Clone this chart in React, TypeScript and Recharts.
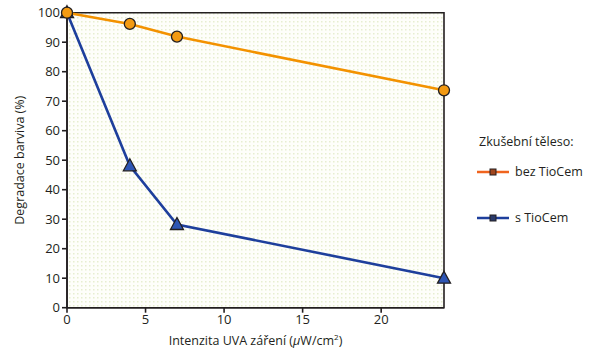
import React from "react";
import {
  LineChart,
  Line,
  XAxis,
  YAxis,
  CartesianGrid,
  ReferenceArea,
  Legend,
} from "recharts";

const intensity = [0, 4, 7, 24];
const bezTioCem = [100, 96.2, 91.9, 73.7];
const sTioCem = [100, 48.1, 28.2, 10];
const xTicks = [0, 5, 10, 15, 20];
const yTicks = [0, 10, 20, 30, 40, 50, 60, 70, 80, 90, 100];

const data = intensity.map((x, i) => ({ x, bez: bezTioCem[i], s: sTioCem[i] }));

const FONT = "'Open Sans', 'Noto Sans', sans-serif";
const ORANGE = "#f39200";
const BLUE = "#1e3f9c";
const DARK = "#231f20";

const Triangle = (props: any) => {
  const { cx, cy } = props;
  if (cx == null || cy == null) return null;
  const w = 6.5;
  return (
    <path
      d={`M${cx},${cy - 7} L${cx + w},${cy + 5} L${cx - w},${cy + 5} Z`}
      fill="#2e56b4"
      stroke={DARK}
      strokeWidth={1.3}
    />
  );
};

const XLabel = (props: any) => {
  const vb = props.viewBox || {};
  const cx = (vb.x ?? 0) + (vb.width ?? 0) / 2;
  const y = 345;
  return (
    <text x={cx} y={y} textAnchor="middle" fill={DARK} fontSize={12.5} fontFamily={FONT}>
      <tspan>Intenzita UVA záření (</tspan>
      <tspan fontStyle="italic">μ</tspan>
      <tspan>W/cm</tspan>
      <tspan fontSize={8} dy={-5}>2</tspan>
      <tspan dy={5}>)</tspan>
    </text>
  );
};

const LegendContent = () => (
  <div style={{ fontFamily: FONT, fontSize: 12.5, color: DARK, width: 140 }}>
    <div style={{ marginBottom: 13 }}>Zkušební těleso:</div>
    <div style={{ display: "flex", alignItems: "center", marginLeft: -2 }}>
      <svg width={34} height={10}>
        <line x1={0} y1={5} x2={32} y2={5} stroke="#f0641e" strokeWidth={2.5} />
        <rect x={13} y={2} width={6} height={6} fill="#a0461e" stroke={DARK} strokeWidth={1} />
      </svg>
      <span style={{ marginLeft: 4 }}>bez TioCem</span>
    </div>
    <div style={{ display: "flex", alignItems: "center", marginLeft: -2, marginTop: 29 }}>
      <svg width={34} height={10}>
        <line x1={0} y1={5} x2={32} y2={5} stroke={BLUE} strokeWidth={2.5} />
        <rect x={13} y={2} width={6} height={6} fill="#2a3a6a" stroke={DARK} strokeWidth={1} />
      </svg>
      <span style={{ marginLeft: 4 }}>s TioCem</span>
    </div>
  </div>
);

export default function App() {
  return (
    <div style={{ position: "absolute", left: 0, top: 0, width: 600, height: 355, background: "#fff" }}>
      <LineChart
        width={600}
        height={355}
        data={data}
        margin={{ top: 12.7, right: 156, bottom: 0, left: 0 }}
      >
        <defs>
          <pattern id="dots" width="4" height="4" patternUnits="userSpaceOnUse">
            <rect width="4" height="4" fill="#fefefa" />
            <rect x="1" y="1" width="1.5" height="1.5" fill="#e7eed0" />
          </pattern>
        </defs>
        <ReferenceArea x1={0} x2={24} y1={0} y2={100} fill="url(#dots)" fillOpacity={1} stroke="none" />
        <CartesianGrid vertical={false} stroke="#dedede" strokeWidth={1} />
        <ReferenceArea x1={0} x2={24} y1={0} y2={100} fill="none" stroke={DARK} strokeWidth={1.6} />
        <XAxis
          dataKey="x"
          type="number"
          domain={[0, 24]}
          ticks={xTicks}
          height={47.3}
          stroke={DARK}
          strokeWidth={1.6}
          tickSize={5}
          tick={{ fill: DARK, fontSize: 13, fontFamily: FONT }}
          label={<XLabel />}
        />
        <YAxis
          type="number"
          domain={[0, 100]}
          ticks={yTicks}
          width={67}
          stroke={DARK}
          strokeWidth={1.6}
          tickSize={5}
          tick={{ fill: DARK, fontSize: 13, fontFamily: FONT }}
          label={{
            value: "Degradace barviva (%)",
            angle: -90,
            position: "insideLeft",
            offset: 20,
            fill: DARK,
            fontSize: 12.5,
            fontFamily: FONT,
            style: { textAnchor: "middle" },
          }}
        />
        <Legend
          layout="vertical"
          verticalAlign="middle"
          align="center"
          content={<LegendContent />}
          wrapperStyle={{ position: "absolute", left: 479, top: 133, width: 140 }}
        />
        <Line
          dataKey="s"
          stroke={BLUE}
          strokeWidth={2.6}
          isAnimationActive={false}
          dot={<Triangle />}
          activeDot={false}
        />
        <Line
          dataKey="bez"
          stroke={ORANGE}
          strokeWidth={2.6}
          isAnimationActive={false}
          dot={{ r: 5.5, fill: "#f39a12", stroke: DARK, strokeWidth: 1.3 }}
          activeDot={false}
        />
      </LineChart>
    </div>
  );
}
